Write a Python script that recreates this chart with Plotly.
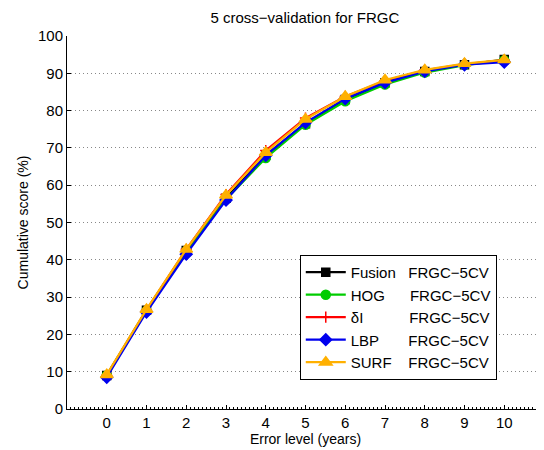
import plotly.graph_objects as go

x_levels = [0, 1, 2, 3, 4, 5, 6, 7, 8, 9, 10]
fusion = [9.0, 26.5, 42.5, 56.5, 68.0, 76.5, 83.0, 87.5, 90.5, 92.3, 93.7]
hog = [9.0, 26.3, 42.3, 56.2, 67.3, 76.2, 82.5, 87.0, 90.2, 92.2, 93.5]
delta_i = [9.0, 26.5, 42.8, 57.5, 69.3, 78.0, 83.8, 88.0, 90.8, 92.5, 93.5]
lbp = [8.5, 26.0, 41.5, 56.0, 68.0, 76.8, 83.2, 87.5, 90.5, 92.3, 93.0]
surf = [9.2, 26.7, 42.8, 57.3, 68.8, 77.7, 83.8, 88.2, 90.9, 92.6, 93.6]

NB = "\u00a0"
series = [
    ("Fusion" + NB * 3 + "FRGC\u22125CV", fusion, "black", "square", 8, "black"),
    ("HOG" + NB * 6 + "FRGC\u22125CV", hog, "#00CC00", "circle", 9, "#00CC00"),
    ("\u03b4I" + NB * 11 + "FRGC\u22125CV", delta_i, "red", "cross-thin", 8, "red"),
    ("LBP" + NB * 7 + "FRGC\u22125CV", lbp, "#0000EE", "diamond", 9, "#0000EE"),
    ("SURF" + NB * 4 + "FRGC\u22125CV", surf, "#FFB000", "triangle-up", 11, "#FFB000"),
]

fig = go.Figure()
for name, ys, col, sym, sz, fill in series:
    fig.add_trace(go.Scatter(
        x=x_levels, y=ys, name=name, mode="lines+markers",
        line=dict(color=col, width=2.2),
        marker=dict(symbol=sym, size=sz, color=fill, line=dict(color=col, width=1.5)),
    ))

# page body has an 8px offset; figure is sized so the page shows 544x450
fig.update_layout(
    width=536, height=442,
    margin=dict(l=59, r=0, t=28, b=41, autoexpand=False),
    paper_bgcolor="white", plot_bgcolor="white",
    font=dict(family="Liberation Sans, Arial, sans-serif", size=15, color="black"),
    title=dict(text="5 cross\u2212validation for FRGC", x=0.554, xanchor="center",
               y=0.977, yanchor="middle", font=dict(size=15), automargin=False),
    showlegend=True,
    legend=dict(x=0.488, y=0.413, xanchor="left", yanchor="top",
                bordercolor="black", borderwidth=1, bgcolor="white",
                font=dict(size=15), tracegroupgap=0, itemwidth=40,
                entrywidth=165, entrywidthmode="pixels"),
)
fig.update_xaxes(
    range=[-1, 11], tickmode="array", tickvals=x_levels, automargin=False,
    ticks="inside", ticklen=4, tickcolor="black",
    showline=True, linecolor="black", linewidth=1, showgrid=False, zeroline=False,
    minor=dict(ticks="inside", ticklen=2, dtick=0.1, tickcolor="black", showgrid=False),
    title=dict(text="Error level (years)", font=dict(size=14), standoff=4),
)
fig.update_yaxes(
    range=[0, 100], dtick=10, automargin=False,
    ticks="inside", ticklen=4, tickcolor="black",
    showline=True, linecolor="black", linewidth=1, zeroline=False,
    showgrid=True, gridcolor="#888888", griddash="1px,3px", gridwidth=1,
    title=dict(text="Cumulative score (%)", font=dict(size=14), standoff=6),
)

fig.write_html("out.html")
